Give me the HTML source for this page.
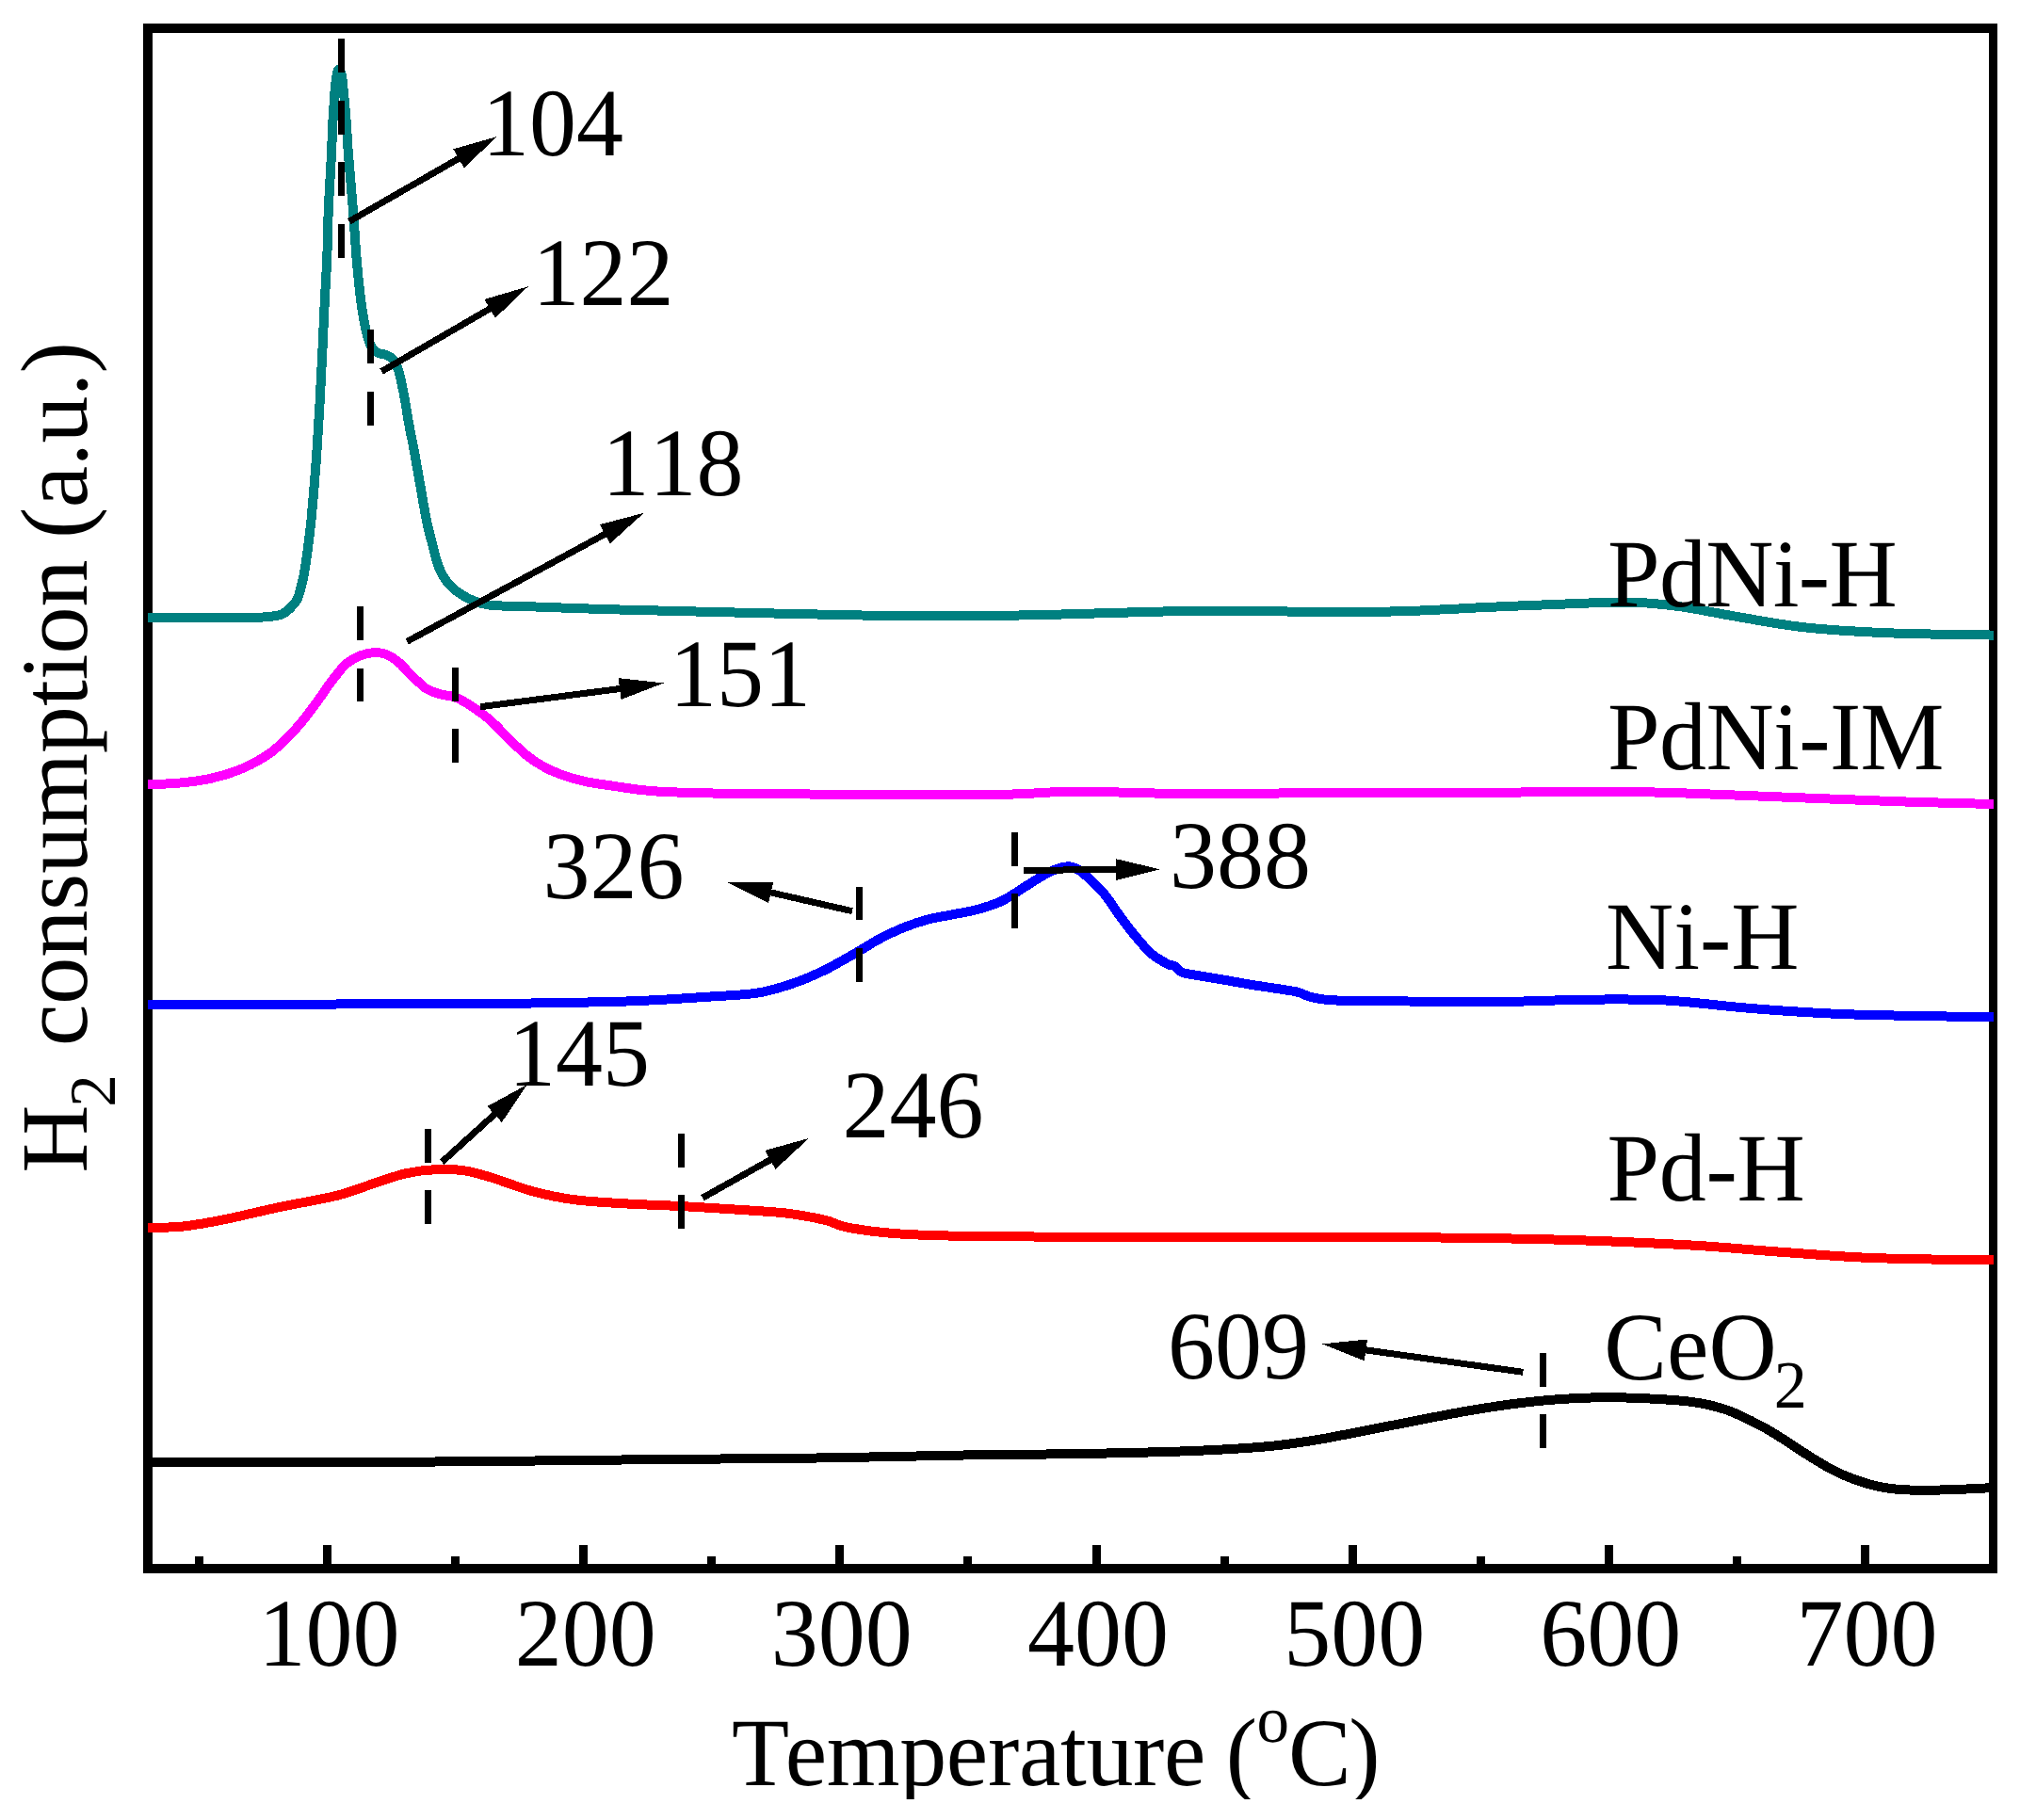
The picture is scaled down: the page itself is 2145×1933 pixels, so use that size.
<!DOCTYPE html>
<html><head><meta charset="utf-8"><title>H2-TPR</title>
<style>
html,body{margin:0;padding:0;background:#fff;}
body{width:2145px;height:1933px;overflow:hidden;}
svg{display:block;}
text{font-family:"Liberation Serif","Times New Roman",serif;fill:#000;font-kerning:none;}
</style></head><body>
<svg width="2145" height="1933" viewBox="0 0 2145 1933" shape-rendering="crispEdges" text-rendering="geometricPrecision">
<rect width="2145" height="1933" fill="#fff"/>
<rect x="206.9" y="1652.5" width="9" height="10" fill="#000"/>
<rect x="343.0" y="1641" width="9" height="22" fill="#000"/>
<rect x="479.1" y="1652.5" width="9" height="10" fill="#000"/>
<rect x="615.2" y="1641" width="9" height="22" fill="#000"/>
<rect x="751.3" y="1652.5" width="9" height="10" fill="#000"/>
<rect x="887.3" y="1641" width="9" height="22" fill="#000"/>
<rect x="1023.4" y="1652.5" width="9" height="10" fill="#000"/>
<rect x="1159.5" y="1641" width="9" height="22" fill="#000"/>
<rect x="1295.6" y="1652.5" width="9" height="10" fill="#000"/>
<rect x="1431.7" y="1641" width="9" height="22" fill="#000"/>
<rect x="1567.8" y="1652.5" width="9" height="10" fill="#000"/>
<rect x="1703.8" y="1641" width="9" height="22" fill="#000"/>
<rect x="1839.9" y="1652.5" width="9" height="10" fill="#000"/>
<rect x="1976.0" y="1641" width="9" height="22" fill="#000"/>
<path d="M152 25H2121V1671H152Z M162 35V1661H2112V35Z" fill="#000" fill-rule="evenodd"/>
<path d="M157.0 1553.0 C207.8 1552.9 376.4 1552.9 461.9 1552.5 C547.4 1552.1 600.5 1551.1 669.8 1550.4 C739.1 1549.7 817.1 1549.2 877.7 1548.4 C938.4 1547.6 988.3 1546.0 1033.7 1545.3 C1079.1 1544.6 1112.5 1544.7 1150.0 1544.0 C1187.5 1543.3 1227.1 1542.5 1258.9 1541.3 C1290.7 1540.1 1317.9 1538.6 1340.6 1536.7 C1363.3 1534.8 1376.8 1532.7 1395.0 1529.8 C1413.2 1526.9 1431.3 1523.0 1449.5 1519.5 C1467.7 1516.0 1485.8 1512.3 1504.0 1508.8 C1522.2 1505.3 1540.2 1501.6 1558.4 1498.5 C1576.6 1495.4 1597.0 1492.3 1612.9 1490.3 C1628.8 1488.3 1639.4 1487.3 1653.7 1486.3 C1668.0 1485.3 1683.3 1484.5 1699.0 1484.3 C1714.7 1484.1 1731.7 1484.5 1748.0 1485.3 C1764.3 1486.1 1782.7 1487.0 1797.0 1489.0 C1811.3 1491.0 1821.5 1493.3 1833.8 1497.6 C1846.0 1501.9 1860.3 1509.4 1870.5 1514.7 C1880.7 1520.0 1886.8 1524.3 1895.0 1529.4 C1903.2 1534.5 1911.3 1540.3 1919.5 1545.4 C1927.7 1550.5 1935.8 1555.8 1944.0 1560.1 C1952.2 1564.4 1960.3 1568.0 1968.5 1571.1 C1976.7 1574.1 1984.8 1576.6 1993.0 1578.4 C2001.2 1580.2 2007.4 1581.4 2017.6 1582.1 C2027.8 1582.8 2042.1 1582.7 2054.3 1582.6 C2066.5 1582.5 2080.6 1581.8 2091.0 1581.4 C2101.4 1581.0 2112.5 1580.2 2116.8 1580.0" fill="none" stroke="#000000" stroke-width="10.0" stroke-linejoin="round"/>
<path d="M157.0 1304.0 C163.3 1303.8 180.9 1304.0 194.6 1302.5 C208.3 1301.0 221.8 1298.5 239.1 1295.0 C256.4 1291.5 278.7 1285.9 298.5 1281.7 C318.3 1277.5 340.6 1274.2 357.9 1269.8 C375.2 1265.3 390.1 1259.0 402.5 1255.0 C414.9 1251.0 422.3 1248.1 432.2 1246.0 C442.1 1243.9 452.0 1242.7 461.9 1242.2 C471.8 1241.7 481.7 1241.7 491.6 1243.1 C501.5 1244.5 508.9 1246.8 521.3 1250.5 C533.7 1254.2 550.9 1261.3 565.8 1265.3 C580.6 1269.3 593.1 1272.1 610.4 1274.3 C627.7 1276.5 650.9 1277.6 669.8 1278.7 C688.6 1279.8 703.9 1280.0 723.5 1281.1 C743.1 1282.1 769.5 1283.8 787.6 1285.0 C805.7 1286.2 819.9 1287.0 832.0 1288.2 C844.1 1289.5 852.0 1291.0 860.0 1292.5 C868.0 1294.0 873.2 1295.0 880.0 1296.9 C886.8 1298.8 888.7 1301.6 900.5 1303.8 C912.3 1306.0 930.2 1308.7 951.0 1310.2 C971.8 1311.7 992.0 1312.3 1025.2 1312.9 C1058.4 1313.5 1080.0 1313.6 1150.0 1313.8 C1220.0 1314.0 1363.4 1313.5 1445.5 1313.9 C1527.6 1314.3 1585.1 1314.9 1642.6 1316.3 C1700.1 1317.7 1749.3 1320.0 1790.3 1322.2 C1831.3 1324.4 1856.0 1327.3 1888.8 1329.6 C1921.6 1331.9 1949.3 1334.5 1987.3 1336.0 C2025.3 1337.5 2095.2 1338.1 2116.8 1338.5" fill="none" stroke="#ff0000" stroke-width="10.0" stroke-linejoin="round"/>
<path d="M157.0 1066.9 C205.3 1066.8 381.5 1066.5 447.0 1066.3 C512.5 1066.1 513.0 1066.2 550.0 1065.7 C587.0 1065.2 634.1 1064.6 668.8 1063.4 C703.4 1062.2 736.0 1059.7 757.9 1058.3 C779.8 1056.9 788.8 1056.6 800.0 1055.2 C811.2 1053.8 816.8 1052.1 825.2 1049.8 C833.6 1047.5 842.1 1044.6 850.5 1041.4 C858.9 1038.2 868.7 1033.8 875.7 1030.4 C882.7 1027.0 886.5 1024.6 892.6 1021.2 C898.7 1017.8 905.4 1014.1 912.4 1010.0 C919.4 1005.9 926.8 1001.0 934.7 996.8 C942.6 992.6 951.5 988.4 959.9 985.0 C968.3 981.6 976.8 978.9 985.2 976.6 C993.6 974.4 1002.0 973.2 1010.4 971.5 C1018.8 969.8 1027.3 968.7 1035.7 966.5 C1044.1 964.3 1053.9 961.2 1060.9 958.3 C1067.9 955.3 1072.1 952.2 1077.7 948.8 C1083.3 945.4 1089.0 941.4 1094.6 937.9 C1100.2 934.4 1106.5 930.4 1111.4 927.8 C1116.3 925.2 1120.1 923.5 1124.0 922.3 C1127.9 921.0 1131.5 920.0 1135.0 920.3 C1138.5 920.5 1141.6 921.8 1145.0 923.8 C1148.4 925.8 1150.7 927.8 1155.2 932.0 C1159.7 936.2 1166.5 942.1 1172.1 948.8 C1177.7 955.5 1183.3 964.8 1188.9 972.4 C1194.5 980.0 1200.1 987.6 1205.7 994.3 C1211.3 1001.0 1217.0 1007.9 1222.6 1012.8 C1228.2 1017.7 1235.2 1021.4 1239.4 1023.7 C1243.6 1026.0 1245.3 1024.9 1247.8 1026.4 C1250.3 1027.9 1251.2 1031.1 1254.6 1032.6 C1258.0 1034.1 1260.7 1034.2 1268.0 1035.5 C1275.3 1036.8 1287.6 1038.7 1298.3 1040.5 C1309.0 1042.3 1320.8 1044.6 1332.0 1046.4 C1343.2 1048.2 1357.9 1050.2 1365.7 1051.5 C1373.5 1052.8 1374.6 1052.7 1379.1 1054.0 C1383.6 1055.3 1386.4 1057.7 1392.6 1059.1 C1398.8 1060.5 1403.2 1061.8 1416.1 1062.4 C1429.0 1063.0 1456.9 1062.7 1470.0 1062.9 C1483.1 1063.1 1474.2 1063.3 1494.8 1063.5 C1515.3 1063.7 1560.5 1064.3 1593.3 1064.0 C1626.1 1063.7 1662.2 1061.8 1691.8 1061.6 C1721.3 1061.4 1741.9 1061.0 1770.6 1062.6 C1799.3 1064.2 1832.2 1069.0 1864.2 1071.4 C1896.2 1073.9 1920.7 1075.8 1962.8 1077.3 C2004.9 1078.8 2091.1 1079.8 2116.8 1080.3" fill="none" stroke="#0000ff" stroke-width="10.0" stroke-linejoin="round"/>
<path d="M157.0 832.9 C162.0 832.7 175.9 832.9 187.1 831.9 C198.3 830.9 213.2 829.1 224.3 826.7 C235.5 824.3 244.9 821.2 254.0 817.6 C263.1 814.0 271.3 809.8 278.7 805.2 C286.1 800.7 291.9 796.3 298.5 790.3 C305.1 784.3 312.1 776.5 318.3 769.3 C324.5 762.1 329.8 754.8 335.6 747.0 C341.4 739.2 347.6 729.3 353.0 722.3 C358.4 715.3 362.9 709.3 367.8 705.0 C372.8 700.7 377.8 698.3 382.7 696.3 C387.6 694.3 393.0 693.3 397.5 693.1 C402.0 692.9 405.8 693.4 409.9 695.0 C414.0 696.6 417.8 698.8 422.3 702.5 C426.8 706.2 432.2 712.6 437.1 717.3 C442.1 722.0 447.1 727.6 452.0 730.9 C456.9 734.2 461.4 735.5 466.8 737.1 C472.2 738.8 478.4 738.5 484.2 740.8 C490.0 743.1 495.3 746.6 501.5 750.7 C507.7 754.8 514.7 759.8 521.3 765.6 C527.9 771.4 534.9 779.4 541.1 785.4 C547.3 791.4 552.6 796.8 558.4 801.5 C564.2 806.2 569.5 810.0 575.7 813.5 C581.9 817.0 588.1 819.8 595.5 822.5 C602.9 825.2 611.2 827.8 620.3 829.8 C629.4 831.8 637.0 832.8 650.0 834.6 C663.0 836.4 673.9 839.2 698.5 840.6 C723.1 842.0 738.9 842.5 797.5 843.1 C856.1 843.7 993.1 844.4 1050.0 844.0 C1106.9 843.6 1104.3 840.9 1139.0 840.7 C1173.7 840.5 1213.5 842.8 1258.0 843.0 C1302.5 843.2 1358.2 842.3 1406.0 842.2 C1453.8 842.1 1497.1 842.5 1545.0 842.2 C1592.9 842.0 1653.9 840.7 1693.5 840.7 C1733.1 840.7 1747.9 841.2 1782.6 842.2 C1817.2 843.2 1861.8 845.4 1901.4 846.9 C1941.0 848.4 1984.1 850.2 2020.0 851.4 C2055.9 852.6 2100.7 853.6 2116.8 854.0" fill="none" stroke="#ff00ff" stroke-width="10.0" stroke-linejoin="round"/>
<path d="M157.0 655.9 C169.2 655.9 211.2 655.9 230.0 655.9 C248.8 655.9 261.0 655.9 270.0 655.8 C279.0 655.7 279.3 655.6 283.9 655.1 C288.5 654.6 293.8 654.4 297.7 653.0 C301.6 651.6 304.4 649.5 307.4 646.7 C310.4 643.9 313.6 640.3 315.7 636.3 C317.8 632.3 318.7 627.1 319.9 622.5 C321.1 617.9 321.8 615.5 323.0 608.6 C324.2 601.7 325.9 590.1 327.1 580.9 C328.3 571.7 329.2 564.8 330.4 553.2 C331.5 541.7 332.9 524.8 334.0 511.6 C335.1 498.4 335.9 488.4 336.8 474.0 C337.8 459.6 338.8 442.4 339.7 425.5 C340.6 408.6 341.5 390.3 342.4 372.7 C343.2 355.1 344.0 336.2 344.8 320.0 C345.6 303.8 346.5 291.7 347.2 275.5 C347.9 259.3 348.1 238.9 348.8 222.7 C349.5 206.5 350.6 189.9 351.2 178.4 C351.8 166.9 352.1 161.3 352.4 153.7 C352.7 146.1 352.8 139.9 353.2 133.0 C353.6 126.1 354.1 117.9 354.5 112.4 C354.9 106.9 355.0 104.1 355.3 100.0 C355.6 95.9 356.1 91.1 356.5 87.7 C356.9 84.3 357.1 81.8 357.6 79.5 C358.1 77.2 358.8 73.7 359.7 73.7 C360.6 73.7 362.1 77.2 362.8 79.5 C363.5 81.8 363.4 84.3 363.8 87.7 C364.2 91.1 364.7 95.9 365.1 100.0 C365.5 104.1 365.8 106.9 366.3 112.4 C366.8 117.9 367.5 126.1 368.0 133.0 C368.5 139.9 368.7 146.9 369.2 153.7 C369.7 160.5 369.9 162.5 370.8 174.0 C371.8 185.5 373.6 205.8 374.9 222.7 C376.2 239.6 377.3 259.3 378.7 275.5 C380.1 291.7 381.8 308.2 383.3 320.0 C384.8 331.8 386.2 339.1 387.7 346.4 C389.2 353.7 390.7 359.6 392.3 364.0 C393.9 368.4 395.7 370.6 397.5 372.5 C399.3 374.4 401.2 374.6 403.3 375.4 C405.4 376.1 407.7 376.0 410.0 377.0 C412.3 378.0 414.7 378.8 416.9 381.5 C419.1 384.2 421.5 388.6 423.1 393.0 C424.7 397.4 425.4 402.5 426.6 407.9 C427.8 413.3 428.8 418.2 430.1 425.5 C431.4 432.8 433.0 443.8 434.5 451.9 C436.0 460.0 437.0 464.1 438.9 474.0 C440.8 483.9 443.2 498.4 445.6 511.6 C448.0 524.8 450.6 541.7 453.0 553.2 C455.4 564.8 457.8 572.8 459.9 580.9 C462.0 589.0 463.4 595.7 465.7 601.7 C468.0 607.7 470.6 612.5 473.8 616.9 C477.0 621.3 480.8 624.8 484.9 628.0 C489.0 631.2 494.1 634.1 498.7 636.3 C503.3 638.5 508.0 640.0 512.6 641.2 C517.2 642.4 520.2 642.9 526.4 643.3 C532.6 643.7 538.5 643.4 550.0 643.8 C561.5 644.2 578.8 644.9 595.5 645.5 C612.2 646.1 622.1 646.5 650.0 647.3 C677.9 648.1 721.3 649.1 763.0 650.1 C804.7 651.1 863.7 652.5 900.0 653.2 C936.3 653.9 949.3 654.5 981.0 654.5 C1012.7 654.5 1056.8 654.0 1090.0 653.4 C1123.2 652.8 1152.8 651.7 1180.0 651.0 C1207.2 650.3 1226.3 649.5 1253.0 649.2 C1279.7 648.9 1312.7 648.8 1340.0 649.0 C1367.3 649.2 1390.3 650.5 1417.0 650.5 C1443.7 650.5 1472.8 649.7 1500.0 648.8 C1527.2 647.9 1555.0 646.0 1580.0 644.9 C1605.0 643.8 1625.2 642.9 1650.0 642.0 C1674.8 641.1 1706.9 639.3 1729.0 639.6 C1751.1 639.9 1763.8 641.5 1782.6 644.0 C1801.4 646.5 1819.8 650.8 1842.0 654.5 C1864.2 658.2 1888.8 663.3 1916.0 666.3 C1943.2 669.3 1971.9 670.9 2005.4 672.3 C2038.9 673.7 2098.2 674.2 2116.8 674.6" fill="none" stroke="#008080" stroke-width="10.0" stroke-linejoin="round"/>
<rect x="358.9" y="40.9" width="7.0" height="35.8" fill="#000"/>
<rect x="358.9" y="107.1" width="7.0" height="35.7" fill="#000"/>
<rect x="358.9" y="172.2" width="7.0" height="35.6" fill="#000"/>
<rect x="358.9" y="238.1" width="7.0" height="35.6" fill="#000"/>
<rect x="390.0" y="350.3" width="7.0" height="35.4" fill="#000"/>
<rect x="390.0" y="416.2" width="7.0" height="35.4" fill="#000"/>
<rect x="379.1" y="644.2" width="7.0" height="35.4" fill="#000"/>
<rect x="379.1" y="709.8" width="7.0" height="35.2" fill="#000"/>
<rect x="479.9" y="709.4" width="7.0" height="35.4" fill="#000"/>
<rect x="479.9" y="774.3" width="7.0" height="35.3" fill="#000"/>
<rect x="908.9" y="941.6" width="7.0" height="35.2" fill="#000"/>
<rect x="908.9" y="1007.2" width="7.0" height="35.4" fill="#000"/>
<rect x="1073.8" y="883.5" width="7.0" height="36.1" fill="#000"/>
<rect x="1073.8" y="949.3" width="7.0" height="36.2" fill="#000"/>
<rect x="451.0" y="1199.4" width="7.0" height="35.2" fill="#000"/>
<rect x="451.0" y="1264.2" width="7.0" height="35.5" fill="#000"/>
<rect x="719.9" y="1204.2" width="7.0" height="35.4" fill="#000"/>
<rect x="719.9" y="1269.2" width="7.0" height="35.3" fill="#000"/>
<rect x="1634.8" y="1437.1" width="7.0" height="35.8" fill="#000"/>
<rect x="1634.8" y="1502.0" width="7.0" height="35.9" fill="#000"/>
<line x1="370.8" y1="235.2" x2="488.8" y2="167.4" stroke="#000" stroke-width="7.0"/>
<polygon points="527.8,145.0 492.8,178.4 481.3,158.4" fill="#000"/>
<line x1="405.2" y1="394.5" x2="521.9" y2="326.9" stroke="#000" stroke-width="7.0"/>
<polygon points="560.8,304.3 525.9,337.8 514.4,317.9" fill="#000"/>
<line x1="432.2" y1="681.4" x2="644.2" y2="566.3" stroke="#000" stroke-width="7.0"/>
<polygon points="683.7,544.8 647.9,577.3 636.9,557.1" fill="#000"/>
<line x1="510.1" y1="750.7" x2="660.1" y2="731.3" stroke="#000" stroke-width="7.0"/>
<polygon points="704.7,725.5 659.6,742.9 656.6,720.1" fill="#000"/>
<line x1="905.0" y1="967.7" x2="816.7" y2="947.5" stroke="#000" stroke-width="7.0"/>
<polygon points="772.8,937.4 821.2,936.7 816.0,959.1" fill="#000"/>
<line x1="1087.0" y1="924.3" x2="1186.8" y2="923.6" stroke="#000" stroke-width="7.0"/>
<polygon points="1231.8,923.3 1184.9,935.1 1184.7,912.1" fill="#000"/>
<line x1="469.3" y1="1234.2" x2="526.6" y2="1182.2" stroke="#000" stroke-width="7.0"/>
<polygon points="559.9,1151.9 532.8,1192.0 517.4,1175.0" fill="#000"/>
<line x1="746.0" y1="1272.2" x2="819.6" y2="1230.9" stroke="#000" stroke-width="7.0"/>
<polygon points="858.9,1208.9 823.5,1241.9 812.3,1221.9" fill="#000"/>
<line x1="1617.3" y1="1457.3" x2="1448.5" y2="1433.6" stroke="#000" stroke-width="7.0"/>
<polygon points="1403.9,1427.4 1452.0,1422.5 1448.8,1445.3" fill="#000"/>
<text transform="translate(349.5,1768.8) scale(1,1.025)" font-size="100" text-anchor="middle" >100</text>
<text transform="translate(621.7,1768.8) scale(1,1.025)" font-size="100" text-anchor="middle" >200</text>
<text transform="translate(893.8,1768.8) scale(1,1.025)" font-size="100" text-anchor="middle" >300</text>
<text transform="translate(1166.0,1768.8) scale(1,1.025)" font-size="100" text-anchor="middle" >400</text>
<text transform="translate(1438.2,1768.8) scale(1,1.025)" font-size="100" text-anchor="middle" >500</text>
<text transform="translate(1710.3,1768.8) scale(1,1.025)" font-size="100" text-anchor="middle" >600</text>
<text transform="translate(1982.5,1768.8) scale(1,1.025)" font-size="100" text-anchor="middle" >700</text>
<text transform="translate(512.0,165.0) scale(1,1.025)" font-size="100" text-anchor="start" >104</text>
<text transform="translate(565.5,323.6) scale(1,1.025)" font-size="100" text-anchor="start" >122</text>
<text transform="translate(639.5,525.5) scale(1,1.025)" font-size="100" text-anchor="start" >118</text>
<text transform="translate(711.0,749.5) scale(1,1.025)" font-size="100" text-anchor="start" >151</text>
<text transform="translate(576.5,954.2) scale(1,1.025)" font-size="100" text-anchor="start" >326</text>
<text transform="translate(1242.0,943.0) scale(1,1.025)" font-size="100" text-anchor="start" >388</text>
<text transform="translate(540.0,1153.0) scale(1,1.025)" font-size="100" text-anchor="start" >145</text>
<text transform="translate(894.6,1207.5) scale(1,1.025)" font-size="100" text-anchor="start" >246</text>
<text transform="translate(1240.0,1464.0) scale(1,1.025)" font-size="100" text-anchor="start" >609</text>
<text transform="translate(1707.0,644.0) scale(1,1.025)" font-size="100" text-anchor="start" letter-spacing="-0.7">PdNi-H</text>
<text transform="translate(1707.0,817.2) scale(1,1.025)" font-size="100" text-anchor="start" letter-spacing="-0.6">PdNi-IM</text>
<text transform="translate(1705.0,1028.7) scale(1,1.025)" font-size="100" text-anchor="start" letter-spacing="0">Ni-H</text>
<text transform="translate(1706.5,1274.8) scale(1,1.025)" font-size="100" text-anchor="start" letter-spacing="-0.3">Pd-H</text>
<text transform="translate(1703.3,1464.6) scale(1,1.025)" font-size="100">CeO<tspan x="180.4" dy="29.17" font-size="70">2</tspan></text>
<clipPath id="cx"><rect x="0" y="0" width="2145" height="1911"/></clipPath>
<g clip-path="url(#cx)"><text transform="translate(777.1,1895.9) scale(1,1.025)" font-size="100">T<tspan x="56.6" letter-spacing="-0.33">emperature</tspan><tspan x="499.7"> (</tspan><tspan x="557.4" dy="-44.88" font-size="69">o</tspan><tspan x="591" dy="44.88">C</tspan><tspan x="655.2">)</tspan></text></g>
<text transform="translate(91.5,1245.8) rotate(-90) scale(1,1.01)" font-size="100">H<tspan x="70" dy="30.2" font-size="69">2</tspan><tspan x="109.7" dy="-30.2"> consumption</tspan><tspan x="649.1" letter-spacing="-0.4"> (a.u.)</tspan></text>
</svg>
</body></html>
